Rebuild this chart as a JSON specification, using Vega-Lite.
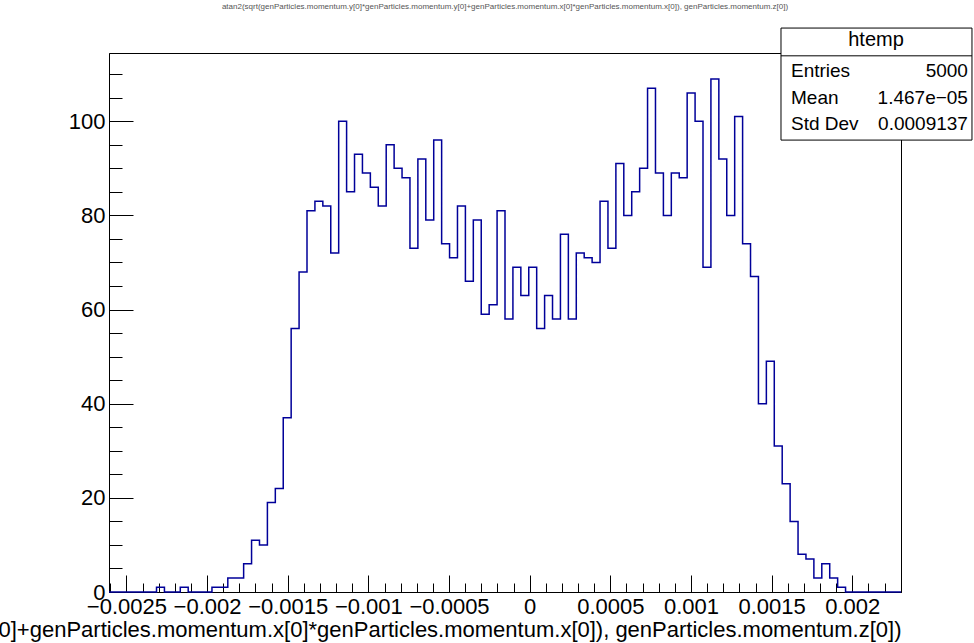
{
  "$schema": "https://vega.github.io/schema/vega-lite/v6.json",
  "width": 792,
  "height": 539,
  "autosize": {"type": "none"},
  "padding": {"left": 109, "top": 53, "right": 73, "bottom": 51},
  "background": "white",
  "title": {
    "text": "atan2(sqrt(genParticles.momentum.y[0]*genParticles.momentum.y[0]+genParticles.momentum.x[0]*genParticles.momentum.x[0]), genParticles.momentum.z[0])",
    "fontSize": 8,
    "font": "Liberation Sans",
    "fontWeight": "normal",
    "color": "#555555",
    "anchor": "middle",
    "baseline": "bottom",
    "offset": 9
  },
  "config": {
    "view": {"stroke": "black", "strokeWidth": 1},
    "font": "Liberation Sans",
    "axis": {
      "labelFont": "Liberation Sans",
      "titleFont": "Liberation Sans",
      "labelColor": "black",
      "titleColor": "black",
      "tickColor": "black",
      "domainColor": "black",
      "grid": false,
      "zindex": 1,
      "tickWidth": 1,
      "domainWidth": 1
    }
  },
  "data": {
    "values": [
      {"x": -0.0026080, "n": 0}, {"x": -0.0025589, "n": 0}, {"x": -0.0025098, "n": 0}, {"x": -0.0024607, "n": 0},
      {"x": -0.0024116, "n": 0}, {"x": -0.0023625, "n": 0}, {"x": -0.0023134, "n": 1}, {"x": -0.0022643, "n": 0},
      {"x": -0.0022152, "n": 0}, {"x": -0.0021661, "n": 1}, {"x": -0.0021170, "n": 0}, {"x": -0.0020679, "n": 0},
      {"x": -0.0020188, "n": 0}, {"x": -0.0019697, "n": 1}, {"x": -0.0019206, "n": 1}, {"x": -0.0018715, "n": 3},
      {"x": -0.0018224, "n": 3}, {"x": -0.0017733, "n": 6}, {"x": -0.0017242, "n": 11}, {"x": -0.0016751, "n": 10},
      {"x": -0.0016260, "n": 19}, {"x": -0.0015769, "n": 22}, {"x": -0.0015278, "n": 37}, {"x": -0.0014787, "n": 56},
      {"x": -0.0014296, "n": 68}, {"x": -0.0013805, "n": 81}, {"x": -0.0013314, "n": 83}, {"x": -0.0012823, "n": 82},
      {"x": -0.0012332, "n": 72}, {"x": -0.0011841, "n": 100}, {"x": -0.0011350, "n": 85}, {"x": -0.0010859, "n": 93},
      {"x": -0.0010368, "n": 89}, {"x": -0.0009877, "n": 86}, {"x": -0.0009386, "n": 82}, {"x": -0.0008895, "n": 95},
      {"x": -0.0008404, "n": 90}, {"x": -0.0007913, "n": 88}, {"x": -0.0007422, "n": 73}, {"x": -0.0006931, "n": 92},
      {"x": -0.0006440, "n": 79}, {"x": -0.0005949, "n": 96}, {"x": -0.0005458, "n": 74}, {"x": -0.0004967, "n": 71},
      {"x": -0.0004476, "n": 82}, {"x": -0.0003985, "n": 66}, {"x": -0.0003494, "n": 79}, {"x": -0.0003003, "n": 59},
      {"x": -0.0002512, "n": 61}, {"x": -0.0002021, "n": 81}, {"x": -0.0001530, "n": 58}, {"x": -0.0001039, "n": 69},
      {"x": -0.0000548, "n": 63}, {"x": -0.0000057, "n": 69}, {"x": 0.0000434, "n": 56}, {"x": 0.0000925, "n": 63},
      {"x": 0.0001416, "n": 58}, {"x": 0.0001907, "n": 76}, {"x": 0.0002398, "n": 58}, {"x": 0.0002889, "n": 72},
      {"x": 0.0003380, "n": 71}, {"x": 0.0003871, "n": 70}, {"x": 0.0004362, "n": 83}, {"x": 0.0004853, "n": 73},
      {"x": 0.0005344, "n": 91}, {"x": 0.0005835, "n": 80}, {"x": 0.0006326, "n": 85}, {"x": 0.0006817, "n": 90},
      {"x": 0.0007308, "n": 107}, {"x": 0.0007799, "n": 89}, {"x": 0.0008290, "n": 80}, {"x": 0.0008781, "n": 89},
      {"x": 0.0009272, "n": 88}, {"x": 0.0009763, "n": 106}, {"x": 0.0010254, "n": 100}, {"x": 0.0010745, "n": 69},
      {"x": 0.0011236, "n": 109}, {"x": 0.0011727, "n": 92}, {"x": 0.0012218, "n": 80}, {"x": 0.0012709, "n": 101},
      {"x": 0.0013200, "n": 74}, {"x": 0.0013691, "n": 67}, {"x": 0.0014182, "n": 40}, {"x": 0.0014673, "n": 49},
      {"x": 0.0015164, "n": 31}, {"x": 0.0015655, "n": 23}, {"x": 0.0016146, "n": 15}, {"x": 0.0016637, "n": 8},
      {"x": 0.0017128, "n": 7}, {"x": 0.0017619, "n": 3}, {"x": 0.0018110, "n": 6}, {"x": 0.0018601, "n": 3},
      {"x": 0.0019092, "n": 1}, {"x": 0.0019583, "n": 0}, {"x": 0.0020074, "n": 0}, {"x": 0.0020565, "n": 0},
      {"x": 0.0021056, "n": 0}, {"x": 0.0021547, "n": 0}, {"x": 0.0022038, "n": 0}, {"x": 0.0022529, "n": 0},
      {"x": 0.0023020, "n": 0}
    ]
  },
  "layer": [
    {
      "mark": {"type": "line", "interpolate": "step-after", "strokeOpacity": 0},
      "encoding": {
        "x": {
          "field": "x", "type": "quantitative",
          "scale": {"domain": [-0.002608, 0.002302], "nice": false, "zero": false},
          "axis": {
            "orient": "bottom",
            "values": [-0.0026, -0.0025, -0.0024, -0.0023, -0.0022, -0.0021, -0.002, -0.0019, -0.0018, -0.0017, -0.0016, -0.0015, -0.0014, -0.0013, -0.0012, -0.0011, -0.001, -0.0009, -0.0008, -0.0007, -0.0006, -0.0005, -0.0004, -0.0003, -0.0002, -0.0001, 0, 0.0001, 0.0002, 0.0003, 0.0004, 0.0005, 0.0006, 0.0007, 0.0008, 0.0009, 0.001, 0.0011, 0.0012, 0.0013, 0.0014, 0.0015, 0.0016, 0.0017, 0.0018, 0.0019, 0.002, 0.0021, 0.0022, 0.0023],
            "labels": false, "domain": false, "tickSize": -9, "title": null
          }
        },
        "y": {
          "field": "n", "type": "quantitative",
          "scale": {"domain": [0, 114.5], "nice": false, "zero": false},
          "axis": {
            "orient": "left",
            "values": [0, 5, 10, 15, 20, 25, 30, 35, 40, 45, 50, 55, 60, 65, 70, 75, 80, 85, 90, 95, 100, 105, 110],
            "labels": false, "domain": false, "tickSize": -13, "title": null
          }
        }
      }
    },
    {
      "mark": {"type": "line", "interpolate": "step-after", "color": "#000099", "strokeWidth": 1.5},
      "encoding": {
        "x": {
          "field": "x", "type": "quantitative",
          "scale": {"domain": [-0.002608, 0.002302], "nice": false, "zero": false},
          "axis": {
            "orient": "bottom",
            "values": [-0.0025, -0.002, -0.0015, -0.001, -0.0005, 0, 0.0005, 0.001, 0.0015, 0.002],
            "labelExpr": "format(datum.value, '~g')",
            "labelFontSize": 22,
            "labelPadding": 21,
            "labelFlush": false,
            "labelOverlap": false,
            "tickSize": -17,
            "title": "atan2(sqrt(genParticles.momentum.y[0]*genParticles.momentum.y[0]+genParticles.momentum.x[0]*genParticles.momentum.x[0]), genParticles.momentum.z[0])",
            "titleFontSize": 22,
            "titleFontWeight": "normal",
            "titleAnchor": "end",
            "titleLimit": 5000,
            "titlePadding": 2
          }
        },
        "y": {
          "field": "n", "type": "quantitative",
          "scale": {"domain": [0, 114.5], "nice": false, "zero": false},
          "axis": {
            "orient": "left",
            "values": [0, 20, 40, 60, 80, 100],
            "labelFontSize": 22,
            "labelPadding": 28,
            "labelFlush": false,
            "labelOverlap": false,
            "tickSize": -24,
            "title": null
          }
        }
      }
    },
    {
      "data": {"values": [{}]},
      "mark": {"type": "rect", "fill": "white", "stroke": "black", "strokeWidth": 1},
      "encoding": {
        "x": {"datum": 0.001558, "type": "quantitative", "axis": null, "scale": {"domain": [-0.002608, 0.002302], "nice": false, "zero": false}},
        "x2": {"datum": 0.002742},
        "y": {"datum": 119.8, "type": "quantitative", "axis": null, "scale": {"domain": [0, 114.5], "nice": false, "zero": false}},
        "y2": {"datum": 96.0}
      }
    },
    {
      "data": {"values": [{}]},
      "mark": {"type": "rule", "color": "black", "strokeWidth": 1},
      "encoding": {
        "x": {"datum": 0.001558, "type": "quantitative", "axis": null, "scale": {"domain": [-0.002608, 0.002302], "nice": false, "zero": false}},
        "x2": {"datum": 0.002742},
        "y": {"datum": 113.9, "type": "quantitative", "axis": null, "scale": {"domain": [0, 114.5], "nice": false, "zero": false}}
      }
    },
    {
      "data": {"values": [{}]},
      "mark": {"type": "text", "text": "htemp", "fontSize": 20, "align": "center", "baseline": "middle", "font": "Liberation Sans", "color": "black"},
      "encoding": {
        "x": {"datum": 0.002147, "type": "quantitative", "axis": null, "scale": {"domain": [-0.002608, 0.002302], "nice": false, "zero": false}},
        "y": {"datum": 117.3, "type": "quantitative", "axis": null, "scale": {"domain": [0, 114.5], "nice": false, "zero": false}}
      }
    },
    {
      "data": {"values": [{}]},
      "mark": {"type": "text", "text": "Entries", "fontSize": 19, "align": "left", "baseline": "middle", "font": "Liberation Sans", "color": "black"},
      "encoding": {
        "x": {"datum": 0.00162, "type": "quantitative", "axis": null, "scale": {"domain": [-0.002608, 0.002302], "nice": false, "zero": false}},
        "y": {"datum": 110.7, "type": "quantitative", "axis": null, "scale": {"domain": [0, 114.5], "nice": false, "zero": false}}
      }
    },
    {
      "data": {"values": [{}]},
      "mark": {"type": "text", "text": "Mean", "fontSize": 19, "align": "left", "baseline": "middle", "font": "Liberation Sans", "color": "black"},
      "encoding": {
        "x": {"datum": 0.00162, "type": "quantitative", "axis": null, "scale": {"domain": [-0.002608, 0.002302], "nice": false, "zero": false}},
        "y": {"datum": 104.95, "type": "quantitative", "axis": null, "scale": {"domain": [0, 114.5], "nice": false, "zero": false}}
      }
    },
    {
      "data": {"values": [{}]},
      "mark": {"type": "text", "text": "Std Dev", "fontSize": 19, "align": "left", "baseline": "middle", "font": "Liberation Sans", "color": "black"},
      "encoding": {
        "x": {"datum": 0.00162, "type": "quantitative", "axis": null, "scale": {"domain": [-0.002608, 0.002302], "nice": false, "zero": false}},
        "y": {"datum": 99.4, "type": "quantitative", "axis": null, "scale": {"domain": [0, 114.5], "nice": false, "zero": false}}
      }
    },
    {
      "data": {"values": [{}]},
      "mark": {"type": "text", "text": "5000", "fontSize": 19, "align": "right", "baseline": "middle", "font": "Liberation Sans", "color": "black"},
      "encoding": {
        "x": {"datum": 0.002717, "type": "quantitative", "axis": null, "scale": {"domain": [-0.002608, 0.002302], "nice": false, "zero": false}},
        "y": {"datum": 110.7, "type": "quantitative", "axis": null, "scale": {"domain": [0, 114.5], "nice": false, "zero": false}}
      }
    },
    {
      "data": {"values": [{}]},
      "mark": {"type": "text", "text": "1.467e−05", "fontSize": 19, "align": "right", "baseline": "middle", "font": "Liberation Sans", "color": "black"},
      "encoding": {
        "x": {"datum": 0.002717, "type": "quantitative", "axis": null, "scale": {"domain": [-0.002608, 0.002302], "nice": false, "zero": false}},
        "y": {"datum": 104.95, "type": "quantitative", "axis": null, "scale": {"domain": [0, 114.5], "nice": false, "zero": false}}
      }
    },
    {
      "data": {"values": [{}]},
      "mark": {"type": "text", "text": "0.0009137", "fontSize": 19, "align": "right", "baseline": "middle", "font": "Liberation Sans", "color": "black"},
      "encoding": {
        "x": {"datum": 0.002717, "type": "quantitative", "axis": null, "scale": {"domain": [-0.002608, 0.002302], "nice": false, "zero": false}},
        "y": {"datum": 99.4, "type": "quantitative", "axis": null, "scale": {"domain": [0, 114.5], "nice": false, "zero": false}}
      }
    }
  ],
  "resolve": {"axis": {"x": "independent", "y": "independent"}}
}
